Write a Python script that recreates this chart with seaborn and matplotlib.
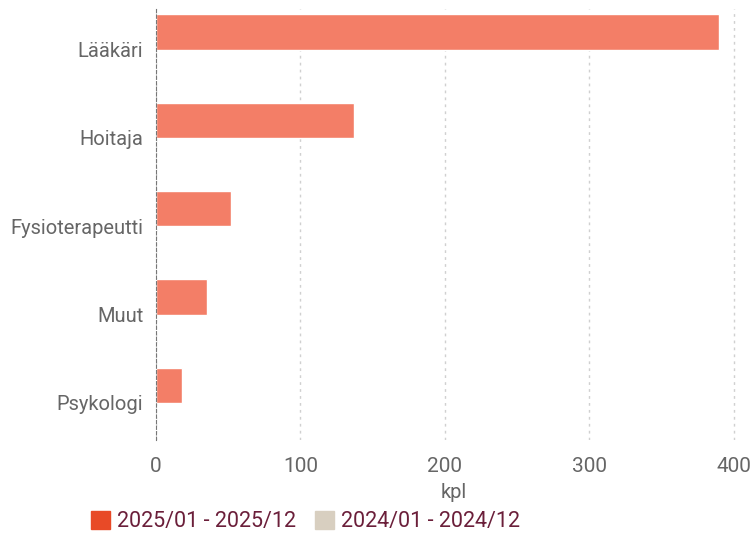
import matplotlib.pyplot as plt
import seaborn as sns
import pandas as pd
from matplotlib.patches import Patch

categories = ["Lääkäri", "Hoitaja", "Fysioterapeutti", "Muut", "Psykologi"]
values_2025 = [390, 137, 52, 35, 18]
values_2024 = [0, 0, 0, 0, 0]
series = ["2025/01 - 2025/12", "2024/01 - 2024/12"]

df = pd.DataFrame({
    "Ammatti": categories * 2,
    "kpl": values_2025 + values_2024,
    "Jakso": [series[0]] * len(categories) + [series[1]] * len(categories),
})

sns.set_style("white")
plt.rcParams["font.family"] = ["Roboto", "DejaVu Sans"]

fig = plt.figure(figsize=(7.51, 5.54), dpi=100)
ax = fig.add_axes([0.2077, 0.2058, 0.7923, 0.778])

sns.barplot(data=df, y="Ammatti", x="kpl", hue="Jakso", orient="h",
            palette=["#F37E67", "#D8CFC0"], saturation=1, width=0.8, ax=ax, legend=False)

ax.set_xlim(0, 412)
ax.set_ylim(4.42, -0.46)
ax.set_xticks([0, 100, 200, 300, 400])
ax.grid(axis="x", color="#d0d0d0", linestyle=(0, (2, 3)), linewidth=1)
ax.set_axisbelow(True)
for s in ["top", "right", "bottom"]:
    ax.spines[s].set_visible(False)
ax.spines["left"].set_color("#777777")
ax.spines["left"].set_linestyle((0, (3, 2)))
ax.tick_params(axis="y", length=0, labelsize=14.5, labelcolor="#666666", pad=9)
ax.tick_params(axis="x", length=0, labelsize=15, labelcolor="#666666", pad=12)
ax.set_ylabel("")
ax.set_xlabel("kpl", fontsize=14.5, color="#666666", labelpad=5)

handles = [Patch(color="#E84A27"), Patch(color="#D8CFC0")]
fig.legend(handles, series, loc="lower left", bbox_to_anchor=(0.095, 0.004),
           ncol=2, frameon=False, fontsize=15.5, handlelength=0.9, handleheight=0.9,
           handletextpad=0.3, columnspacing=0.9, labelcolor="#6B1F3A")

fig.savefig("out.png", dpi=100)
